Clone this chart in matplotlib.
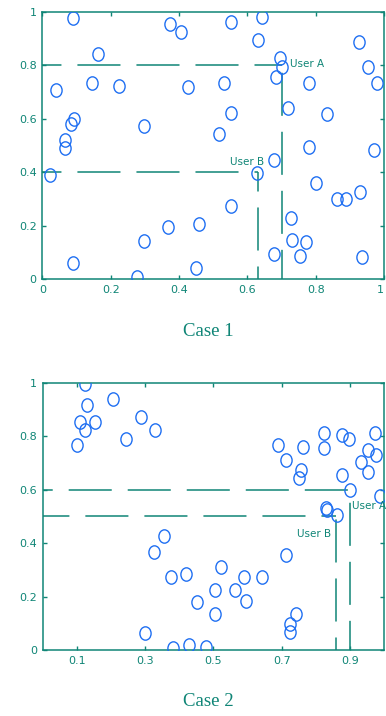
import matplotlib
matplotlib.use("Agg")
import matplotlib.pyplot as plt
from matplotlib.path import Path
import matplotlib.transforms as mtransforms

# ---------------- data ----------------
case1_x = [0.091, 0.374, 0.405, 0.552, 0.644, 0.632, 0.925, 0.162, 0.694, 0.702,
           0.683, 0.954, 0.979, 0.040, 0.144, 0.225, 0.425, 0.530, 0.781, 0.094,
           0.083, 0.296, 0.552, 0.720, 0.834, 0.517, 0.066, 0.066, 0.779, 0.969,
           0.679, 0.627, 0.022, 0.800, 0.861, 0.889, 0.928, 0.552, 0.369, 0.457,
           0.727, 0.296, 0.730, 0.772, 0.679, 0.754, 0.935, 0.091, 0.449, 0.276]
case1_y = [0.975, 0.953, 0.925, 0.963, 0.981, 0.894, 0.888, 0.841, 0.826, 0.795,
           0.757, 0.795, 0.735, 0.707, 0.735, 0.724, 0.717, 0.735, 0.735, 0.601,
           0.579, 0.573, 0.620, 0.639, 0.616, 0.542, 0.521, 0.489, 0.496, 0.483,
           0.446, 0.396, 0.390, 0.359, 0.299, 0.300, 0.325, 0.275, 0.194, 0.207,
           0.228, 0.144, 0.147, 0.141, 0.095, 0.087, 0.082, 0.062, 0.044, 0.010]

case2_x = [0.125, 0.129, 0.205, 0.110, 0.154, 0.123, 0.100, 0.289, 0.330, 0.244,
           0.688, 0.762, 0.824, 0.825, 0.875, 0.897, 0.973, 0.711, 0.953, 0.977,
           0.931, 0.951, 0.757, 0.750, 0.877, 0.901, 0.987, 0.828, 0.833, 0.862,
           0.355, 0.325, 0.375, 0.419, 0.522, 0.504, 0.590, 0.564, 0.595, 0.641,
           0.451, 0.504, 0.711, 0.742, 0.723, 0.723, 0.299, 0.381, 0.430, 0.479]
case2_y = [0.995, 0.916, 0.938, 0.854, 0.854, 0.823, 0.766, 0.873, 0.823, 0.788,
           0.766, 0.760, 0.813, 0.754, 0.806, 0.788, 0.813, 0.710, 0.748, 0.729,
           0.704, 0.666, 0.673, 0.645, 0.654, 0.600, 0.575, 0.531, 0.523, 0.504,
           0.425, 0.366, 0.273, 0.283, 0.310, 0.225, 0.273, 0.223, 0.185, 0.273,
           0.179, 0.135, 0.356, 0.135, 0.098, 0.066, 0.063, 0.008, 0.020, 0.010]

case1_userA = (0.70, 0.80)
case1_userB = (0.63, 0.40)
case2_userA = (0.90, 0.60)
case2_userB = (0.86, 0.50)

case1_xticks = [0, 0.2, 0.4, 0.6, 0.8, 1.0]
case1_xticklabels = ["0", "0.2", "0.4", "0.6", "0.8", "1"]
case2_xticks = [0.1, 0.3, 0.5, 0.7, 0.9]
case2_xticklabels = ["0.1", "0.3", "0.5", "0.7", "0.9"]
yticks = [0, 0.2, 0.4, 0.6, 0.8, 1.0]
yticklabels = ["0", "0.2", "0.4", "0.6", "0.8", "1"]

captions = ["Case 1", "Case 2"]

# ---------------- style ----------------
TEAL = "#0f8576"
BLUE = "#1f6ff2"
W, H = 386, 716
fig = plt.figure(figsize=(W / 100, H / 100), dpi=100)
fig.patch.set_facecolor("white")

ell = Path.unit_circle().transformed(mtransforms.Affine2D().scale(0.84, 1.0))

lw = 1.1
dash = (0, (31 / lw, 11.5 / lw))


def dashed(ax, xs, ys, offset_pt):
    ax.plot(xs, ys, color=TEAL, lw=lw,
            linestyle=(offset_pt / lw, dash[1]), solid_capstyle="butt",
            dash_capstyle="butt", zorder=2)


def setup(ax, xt, xtl):
    ax.set_xlim(0, 1)
    ax.set_ylim(0, 1)
    ax.set_xticks(xt)
    ax.set_xticklabels(xtl)
    ax.set_yticks(yticks)
    ax.set_yticklabels(yticklabels)
    for s in ax.spines.values():
        s.set_color(TEAL)
        s.set_linewidth(1.1)
    ax.tick_params(direction="in", length=3, width=1.0, color=TEAL,
                   labelcolor=TEAL, labelsize=8, top=True, right=True,
                   pad=4)
    for t in ax.get_xticklabels() + ax.get_yticklabels():
        t.set_family("DejaVu Sans")
    ax.set_facecolor("white")


def px_axes(left, top, right, bottom):
    return fig.add_axes([left / W, 1 - bottom / H, (right - left) / W, (bottom - top) / H])


# ---------------- Case 1 ----------------
ax1 = px_axes(42.3, 11.7, 384.2, 279.4)
setup(ax1, case1_xticks, case1_xticklabels)
ax1.get_xticklabels()[-1].set_horizontalalignment("right")
dashed(ax1, [0, case1_userA[0]], [case1_userA[1]] * 2, 17)
dashed(ax1, [case1_userA[0]] * 2, [0, case1_userA[1]], 10)
dashed(ax1, [0, case1_userB[0]], [case1_userB[1]] * 2, 17)
dashed(ax1, [case1_userB[0]] * 2, [0, case1_userB[1]], 22)
ax1.plot(case1_x, case1_y, linestyle="none", marker=ell, ms=9.6,
         mfc="none", mec=BLUE, mew=1.0, zorder=3)
ax1.text(case1_userA[0] + 0.025, case1_userA[1] + 0.005, "User A", color=TEAL,
         fontsize=7.5, va="center", ha="left", family="DejaVu Sans")
ax1.text(case1_userB[0] + 0.018, case1_userB[1] + 0.04, "User B", color=TEAL,
         fontsize=7.5, va="center", ha="right", family="DejaVu Sans")

# ---------------- Case 2 ----------------
ax2 = px_axes(42.5, 382.7, 384.3, 650.0)
setup(ax2, case2_xticks, case2_xticklabels)
dashed(ax2, [0, case2_userA[0]], [case2_userA[1]] * 2, 24)
dashed(ax2, [case2_userA[0]] * 2, [0, case2_userA[1]], 10)
dashed(ax2, [0, case2_userB[0]], [case2_userB[1]] * 2, 12)
dashed(ax2, [case2_userB[0]] * 2, [0, case2_userB[1]], 22)
ax2.plot(case2_x, case2_y, linestyle="none", marker=ell, ms=9.6,
         mfc="none", mec=BLUE, mew=1.0, zorder=3)
ax2.text(case2_userA[0] + 0.005, case2_userA[1] - 0.062, "User A", color=TEAL,
         fontsize=7.5, va="center", ha="left", family="DejaVu Sans")
ax2.text(case2_userB[0] - 0.015, case2_userB[1] - 0.065, "User B", color=TEAL,
         fontsize=7.5, va="center", ha="right", family="DejaVu Sans")

# ---------------- captions ----------------
fig.text(208.5 / W, 1 - 331.7 / H, captions[0], ha="center", va="center",
         fontsize=13.5, color=TEAL, family="Liberation Serif")
fig.text(208.7 / W, 1 - 701.7 / H, captions[1], ha="center", va="center",
         fontsize=13.5, color=TEAL, family="Liberation Serif")

fig.savefig("out.png", dpi=100, facecolor="white")
